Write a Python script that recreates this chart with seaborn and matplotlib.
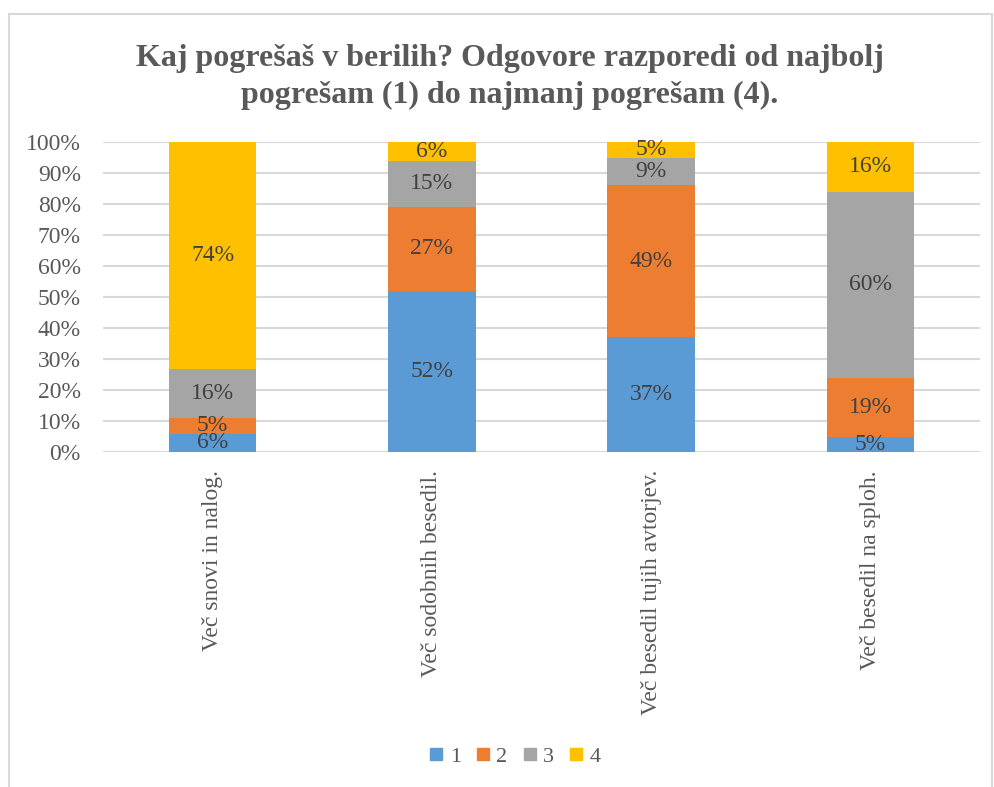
import pandas as pd
import matplotlib.pyplot as plt
import seaborn as sns
from matplotlib.patches import Rectangle
from matplotlib.lines import Line2D

categories = ["Več snovi in nalog.", "Več sodobnih besedil.",
              "Več besedil tujih avtorjev.", "Več besedil na sploh."]
series = ["1", "2", "3", "4"]
r1 = [6, 52, 37, 5]
r2 = [5, 27, 49, 19]
r3 = [16, 15, 9, 60]
r4 = [74, 6, 5, 16]
colors = ["#5B9BD5", "#ED7D31", "#A5A5A5", "#FFC000"]

df = pd.DataFrame({"cat": categories, "1": r1, "2": r2, "3": r3, "4": r4})
totals = df[series].sum(axis=1)
shares = df[series].div(totals, axis=0)  # normalize to 100%
cum = shares.cumsum(axis=1)

sns.set_theme(style="white")
plt.rcParams["font.family"] = ["Liberation Serif", "DejaVu Serif"]

fig = plt.figure(figsize=(9.95, 7.87), dpi=100)
ax = fig.add_axes([103 / 995, 1 - 452 / 787, 877 / 995, 310 / 787])

# stacked bars: draw cumulative heights from top layer down
for s, c in zip(reversed(series), reversed(colors)):
    sns.barplot(x=df["cat"], y=cum[s], color=c, width=0.4, saturation=1,
                ax=ax, zorder=3, linewidth=0)

# data labels
for i in range(len(categories)):
    for s in series:
        mid = cum.loc[i, s] - shares.loc[i, s] / 2
        ax.text(i, mid, f"{df.loc[i, s]}%", ha="center", va="center",
                fontsize=17, color="#404040", zorder=5)

ax.set_ylim(0, 1)
ax.set_xlim(-0.5, 3.5)
ax.set_yticks([k / 10 for k in range(11)])
ax.set_yticklabels([f"{k * 10}%" for k in range(11)])
ax.yaxis.grid(True, color="#D9D9D9", linewidth=1.5, zorder=0)
ax.set_axisbelow(True)
for sp in ax.spines.values():
    sp.set_visible(False)
ax.set_xlabel("")
ax.set_ylabel("")
ax.tick_params(axis="y", length=0, labelsize=17, labelcolor="#595959", pad=16)
ax.tick_params(axis="x", length=0, labelsize=17, labelcolor="#595959",
               labelrotation=90, pad=13)

fig.text(510 / 995, 1 - 77 / 787,
         "Kaj pogrešaš v berilih? Odgovore razporedi od najbolj\npogrešam (1) do najmanj pogrešam (4).",
         ha="center", va="center", fontsize=23, fontweight="bold",
         color="#595959", linespacing=1.35)

handles = [Line2D([], [], marker="s", linestyle="", markersize=9,
                  markerfacecolor=c, markeredgecolor=c) for c in colors]
fig.legend(handles, series, loc="center", ncol=4,
           bbox_to_anchor=(513 / 995, 1 - 757 / 787), frameon=False,
           fontsize=16, labelcolor="#595959", handletextpad=0.1,
           columnspacing=0.5, handlelength=1.0)

fig.patches.append(Rectangle((9 / 995, -0.05), 983 / 995, 1.05 - 14 / 787,
                             transform=fig.transFigure, fill=False,
                             edgecolor="#D9D9D9", linewidth=1.5))

fig.savefig("out.png", dpi=100, facecolor="white")
